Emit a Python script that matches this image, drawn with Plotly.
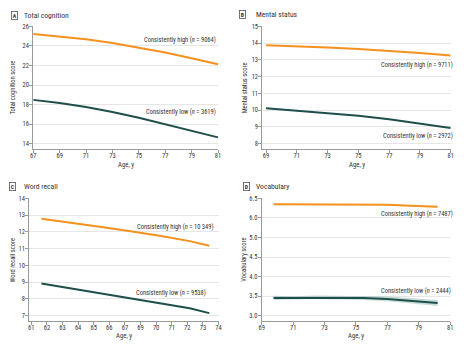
import numpy as np
import plotly.graph_objects as go

W, H = 467, 345
ORANGE = "#F5911E"
TEAL = "#1F4F4B"
BAND = "rgba(110,165,155,0.38)"
BAND_O = "rgba(245,145,30,0.25)"
GRID = "#E6E6E6"
AXIS = "#9A9A9A"
TXT = "#333333"
FONT = "Liberation Sans Narrow, Arial Narrow, Roboto Condensed, sans-serif"

# ---- Panel A: Total cognition
a_age = [67, 69, 71, 73, 75, 77, 79, 81]
a_high = [25.22, 24.97, 24.68, 24.30, 23.85, 23.33, 22.75, 22.12]
a_low = [18.48, 18.15, 17.74, 17.24, 16.66, 15.99, 15.32, 14.64]
a_yticks = [14, 16, 18, 20, 22, 24, 26]
a_xticks = [67, 69, 71, 73, 75, 77, 79, 81]

# ---- Panel B: Mental status
b_age = [69, 71, 73, 75, 77, 79, 81]
b_high = [13.88, 13.82, 13.74, 13.65, 13.55, 13.42, 13.27]
b_low = [10.12, 9.98, 9.83, 9.66, 9.46, 9.22, 8.94]
b_yticks = [8, 9, 10, 11, 12, 13, 14, 15]
b_xticks = [69, 71, 73, 75, 77, 79, 81]

# ---- Panel C: Word recall (axis positions as drawn)
c_age = [61.7, 64, 66, 68, 70, 72, 73.36]
c_high = [12.78, 12.52, 12.28, 12.02, 11.76, 11.45, 11.17]
c_low = [8.92, 8.59, 8.31, 8.03, 7.74, 7.44, 7.15]
c_yticks = [7, 8, 9, 10, 11, 12, 13, 14]
c_xlabels = ["61", "62", "63", "64", "65", "66", "67", "69", "70", "71", "72", "73", "74"]

# ---- Panel D: Vocabulary (axis positions as drawn)
d_age = [69.75, 71, 72.5, 74, 75.5, 77, 78.5, 80.2]
d_high = [6.33, 6.33, 6.33, 6.33, 6.33, 6.31, 6.28, 6.25]
d_high_ci = [0.015, 0.015, 0.015, 0.015, 0.015, 0.02, 0.02, 0.02]
d_low = [3.53, 3.53, 3.55, 3.54, 3.53, 3.50, 3.45, 3.38]
d_low_ci = [0.06, 0.05, 0.05, 0.05, 0.06, 0.07, 0.08, 0.09]
d_ylabels = ["3.0", "3.5", "4.0", "4.5", "5.0", "6.0", "6.5"]
d_xticks = [69, 71, 73, 75, 77, 79, 81]

fig = go.Figure()

def px_x(v):
    return v / W

def px_y(v):
    return 1 - v / H

panels = {
    # name: (x0px, x1px, ytop_px, ybot_px)
    "A": (30.7, 218.3, 22.7, 146.7),
    "B": (263.3, 454.5, 22.7, 146.7),
    "C": (26.7, 218.8, 196.7, 320.7),
    "D": (262.7, 454.0, 196.7, 320.7),
}
axis_ids = {"A": ("x", "y"), "B": ("x2", "y2"), "C": ("x3", "y3"), "D": ("x4", "y4")}

def add_line(p, xs, ys, color, width=2):
    xa, ya = axis_ids[p]
    fig.add_trace(go.Scatter(x=xs, y=ys, mode="lines", line=dict(color=color, width=width),
                             xaxis=xa, yaxis=ya, showlegend=False, hoverinfo="skip",
                             cliponaxis=False))

def add_band(p, xs, ys, ci, color):
    xa, ya = axis_ids[p]
    up = [y + c for y, c in zip(ys, ci)]
    lo = [y - c for y, c in zip(ys, ci)]
    fig.add_trace(go.Scatter(x=list(xs) + list(xs[::-1]), y=up + lo[::-1], mode="lines",
                             fill="toself", fillcolor=color, line=dict(width=0),
                             xaxis=xa, yaxis=ya, showlegend=False, hoverinfo="skip"))

add_line("A", a_age, a_high, ORANGE)
add_line("A", a_age, a_low, TEAL)
add_line("B", b_age, b_high, ORANGE)
add_line("B", b_age, b_low, TEAL)
add_line("C", c_age, c_high, ORANGE)
add_line("C", c_age, c_low, TEAL)
add_band("D", d_age, d_high, d_high_ci, BAND_O)
add_band("D", d_age, d_low, d_low_ci, BAND)
add_line("D", d_age, d_high, ORANGE)
add_line("D", d_age, d_low, TEAL)

common_x = dict(showline=True, linecolor=AXIS, linewidth=1, ticks="outside", ticklen=3,
                tickcolor=AXIS, showgrid=False, zeroline=False, ticklabelstandoff=-3,
                tickfont=dict(family=FONT, size=6.5, color=TXT))
common_y = dict(showline=True, linecolor=AXIS, linewidth=1, ticks="outside", ticklen=3,
                tickcolor=AXIS, showgrid=True, gridcolor=GRID, gridwidth=1, zeroline=False,
                ticklabelstandoff=-1,
                tickfont=dict(family=FONT, size=6.5, color=TXT))

c_xvals = list(np.linspace(61, 74, len(c_xlabels)))
d_yvals = list(np.linspace(3.0, 6.5, len(d_ylabels)))

specs = {
    "A": dict(xr=[67, 81.001], yr=[13.45, 26.001], xt=dict(tickvals=a_xticks), yt=dict(tickvals=a_yticks)),
    "B": dict(xr=[68.76, 81.001], yr=[7.68, 15.001], xt=dict(tickvals=b_xticks), yt=dict(tickvals=b_yticks)),
    "C": dict(xr=[60.86, 74.001], yr=[6.68, 14.001], xt=dict(tickvals=c_xvals, ticktext=c_xlabels),
              yt=dict(tickvals=c_yticks)),
    "D": dict(xr=[69, 81.001], yr=[2.84, 6.501], xt=dict(tickvals=d_xticks),
              yt=dict(tickvals=d_yvals, ticktext=d_ylabels)),
}

layout = dict(width=W, height=H, margin=dict(l=0, r=0, t=0, b=0),
              paper_bgcolor="white", plot_bgcolor="white", showlegend=False)

for i, p in enumerate(["A", "B", "C", "D"]):
    x0, x1, yt_, yb_ = panels[p]
    s = specs[p]
    suffix = "" if i == 0 else str(i + 1)
    xa = dict(common_x, domain=[px_x(x0), px_x(x1)], range=s["xr"], anchor="y" + suffix, **s["xt"])
    ya = dict(common_y, domain=[px_y(yb_), px_y(yt_)], range=s["yr"], anchor="x" + suffix, **s["yt"])
    layout["xaxis" + suffix] = xa
    layout["yaxis" + suffix] = ya

fig.update_layout(**layout)

ann = []
def text(x, y, t, size=6.5, xanchor="center", yanchor="middle", angle=0, ref=("paper", "paper"), **kw):
    ann.append(dict(x=x, y=y, xref=ref[0], yref=ref[1], text=t, showarrow=False,
                    xanchor=xanchor, yanchor=yanchor, textangle=angle,
                    font=dict(family=FONT, size=size, color=TXT), **kw))

# Panel headers
headers = [("A", 11.2, 11.5, 19.5, "Total cognition"),
           ("B", 243.2, 11.0, 254.7, "Mental status"),
           ("C", 10.0, 185.0, 19.0, "Word recall"),
           ("D", 247.3, 185.0, 254.7, "Vocabulary")]
for letter, bx, by, tx, title in headers:
    text(px_x(bx), px_y(by), "<b>%s</b>" % letter, size=5.8, bordercolor="#555555",
         borderwidth=0.8, borderpad=0.9)
    text(px_x(tx), px_y(by), title, size=7.6, xanchor="left")

# Axis titles
text(px_x(124.5), px_y(162.5), "Age, y", size=6.8)
text(px_x(358.9), px_y(162.5), "Age, y", size=6.8)
text(px_x(122.7), px_y(335.7), "Age, y", size=6.8)
text(px_x(358.3), px_y(335.7), "Age, y", size=6.8)
text(px_x(10.0), px_y(84.7), "Total cognition score", angle=-90)
text(px_x(245.3), px_y(84.7), "Mental status score", angle=-90)
text(px_x(10.0), px_y(258.7), "Word recall score", angle=-90)
text(px_x(244.7), px_y(258.7), "Vocabulary score", angle=-90)

# Series labels
text(px_x(218.3), px_y(36.0), "Consistently high (<i>n</i> = 9064)", xanchor="right")
text(px_x(218.3), px_y(109.3), "Consistently low (<i>n</i> = 3619)", xanchor="right")
text(px_x(458.7), px_y(61.7), "Consistently high (<i>n</i> = 9711)", xanchor="right")
text(px_x(458.7), px_y(134.0), "Consistently low (<i>n</i> = 2972)", xanchor="right")
text(px_x(216.0), px_y(226.0), "Consistently high (<i>n</i> = 10 349)", xanchor="right")
text(px_x(208.0), px_y(292.7), "Consistently low (<i>n</i> = 9538)", xanchor="right")
text(px_x(458.7), px_y(212.7), "Consistently high (<i>n</i> = 7487)", xanchor="right")
text(px_x(457.3), px_y(290.7), "Consistently low (<i>n</i> = 2444)", xanchor="right")

fig.update_layout(annotations=ann)
fig.write_html("out.html",
               config={"displayModeBar": False, "staticPlot": True},
               post_script="document.body.style.margin='0';document.body.style.padding='0';"
                           "document.body.style.overflow='hidden';")
